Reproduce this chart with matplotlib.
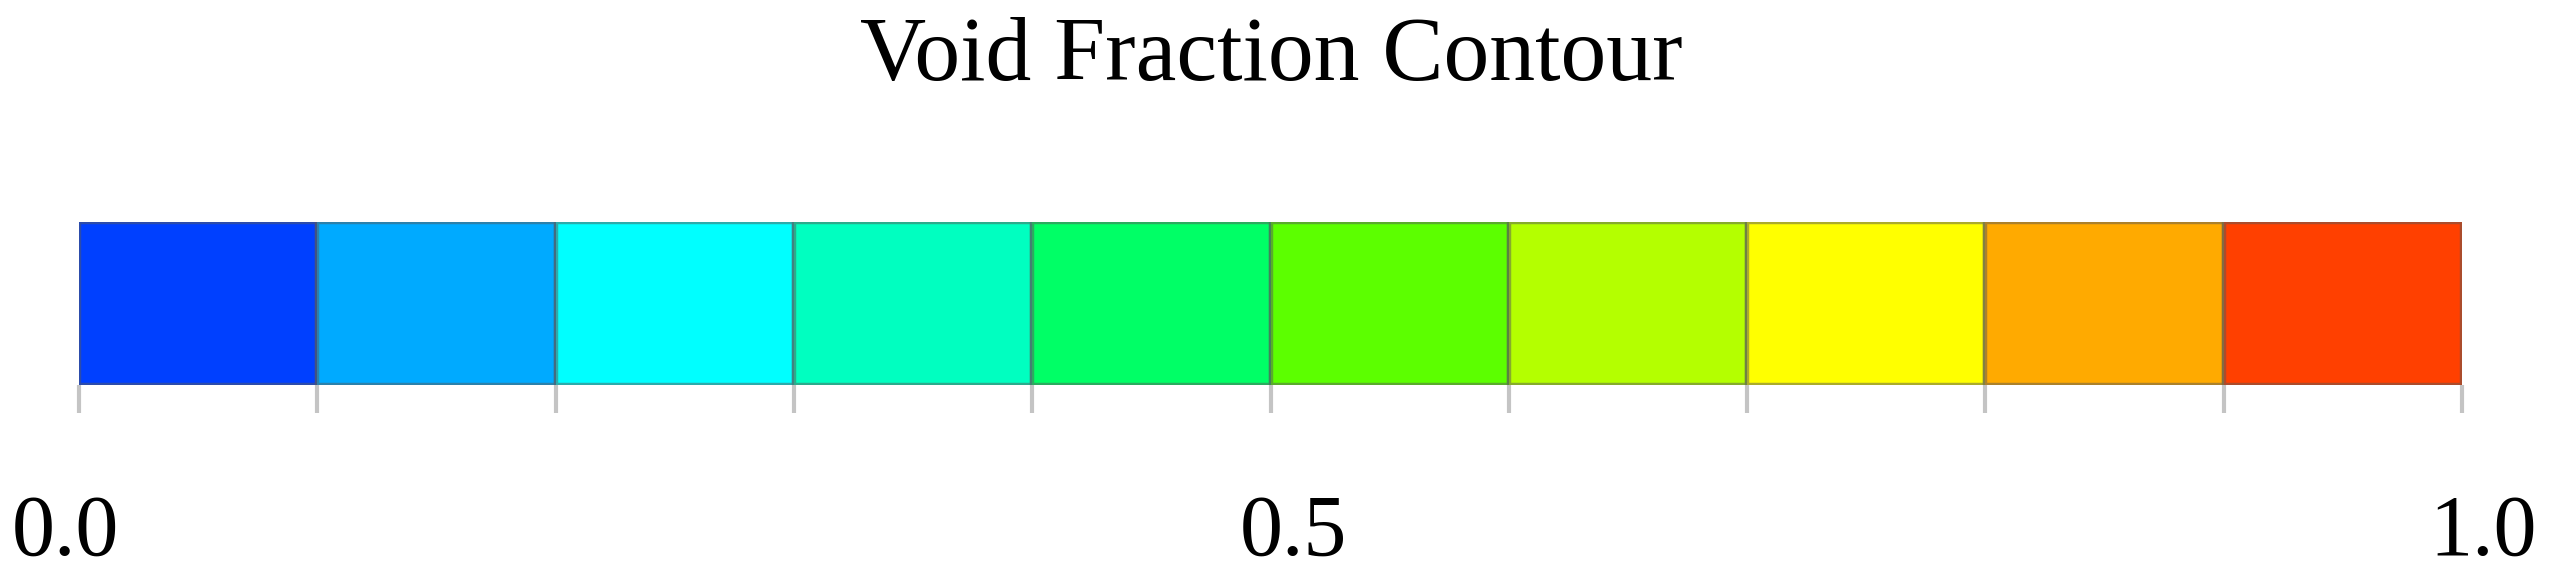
import numpy as np
import matplotlib.pyplot as plt
from matplotlib.transforms import ScaledTranslation

# colour bands of the contour legend (0.0 .. 1.0 in steps of 0.1)
band_starts = [0.0, 0.1, 0.2, 0.3, 0.4, 0.5, 0.6, 0.7, 0.8, 0.9]
band_colors = ["#0040FF", "#00AAFF", "#00FFFF", "#00FFC0", "#00FF66",
               "#5CFF00", "#B4FF00", "#FFFF00", "#FFAA00", "#FF4000"]
tick_values = [0.0, 0.1, 0.2, 0.3, 0.4, 0.5, 0.6, 0.7, 0.8, 0.9, 1.0]
label_values = [0.0, 0.5, 1.0]
label_texts = ["0.0", "0.5", "1.0"]
title = "Void Fraction Contour"

plt.rcParams['font.family'] = ['Liberation Serif', 'DejaVu Serif']

fig = plt.figure(figsize=(25.49, 5.74), dpi=100)
ax = fig.add_axes([79 / 2549, 1 - 385 / 574, 2383 / 2549, 163 / 574])

ax.barh(0.5, [0.1] * len(band_starts), left=band_starts, height=1.0,
        color=band_colors, edgecolor=(0.35, 0.35, 0.35, 0.5),
        linewidth=3.2, align="center")

ax.set_xlim(0, 1)
ax.set_ylim(0, 1)
ax.set_yticks([])
for s in ax.spines.values():
    s.set_visible(False)

ax.set_xticks(tick_values)
ax.set_xticklabels([""] * len(tick_values))
ax.tick_params(axis="x", length=20, width=3, color="#c4c4c4", direction="out")

# labels under the bar (slightly offset like the original)
offsets = [-14, 23, 21]
for v, t, dx in zip(label_values, label_texts, offsets):
    tr = ax.get_xaxis_transform() + ScaledTranslation(dx / 100, 0, fig.dpi_scale_trans)
    ax.text(v, -1.04, t, transform=tr, ha="center", va="baseline",
            fontsize=62, color="black")

fig.text(1271 / 2549, 1 - 80 / 574, title, ha="center", va="baseline",
         fontsize=66, color="black")

fig.savefig("out.png", dpi=100, facecolor="white")
